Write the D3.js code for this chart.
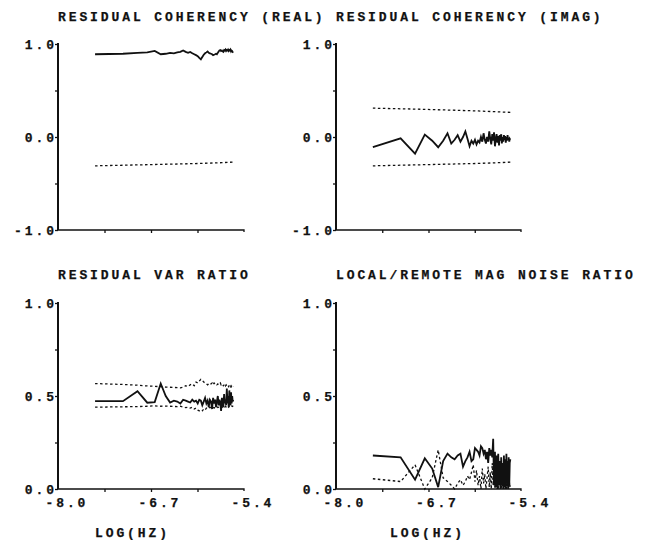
<!DOCTYPE html>
<html>
<head>
<meta charset="utf-8">
<script src="https://cdn.jsdelivr.net/npm/d3@7/dist/d3.min.js"></script>
<style>
  html, body { margin: 0; padding: 0; background: #fff; }
  svg text { font-family: "Liberation Mono", "DejaVu Sans Mono", monospace; font-weight: bold; fill: #111; stroke: #111; stroke-width: 0.25px; }
</style>
</head>
<body>
<svg id="chart" width="657" height="540"></svg>
<script>
// Frequency grid, log10(Hz)
const logFreq = [-7.482, -7.092, -6.889, -6.752, -6.648, -6.564, -6.494, -6.433, -6.380, -6.333,
  -6.290, -6.251, -6.215, -6.182, -6.152, -6.123, -6.096, -6.071, -6.047, -6.025,
  -6.003, -5.983, -5.963, -5.944, -5.926, -5.909, -5.893, -5.877, -5.861, -5.846,
  -5.832, -5.818, -5.804, -5.791, -5.779, -5.766, -5.754, -5.743, -5.731, -5.720,
  -5.709, -5.699, -5.689, -5.678, -5.669, -5.659, -5.650, -5.640, -5.631, -5.623,
  -5.614, -5.605, -5.597, -5.589, -5.581, -5.573, -5.565, -5.558, -5.550];

// Frequencies at which the coherency confidence limits are given
const bandFreq = [-7.482, -6.889, -6.433, -6.003, -5.709, -5.550];

const xTicks = [-8.0, -7.35, -6.7, -6.05, -5.4];
const xTickLabels = ["-8.0", "", "-6.7", "", "-5.4"];
const cohTicks = [-1.0, -0.5, 0.0, 0.5, 1.0];
const cohTickLabels = ["-1.0", "", "0.0", "", "1.0"];
const ratioTicks = [0.0, 0.25, 0.5, 0.75, 1.0];
const ratioTickLabels = ["0.0", "", "0.5", "", "1.0"];

const titles = ["RESIDUAL COHERENCY (REAL)", "RESIDUAL COHERENCY (IMAG)",
  "RESIDUAL VAR RATIO", "LOCAL/REMOTE MAG NOISE RATIO"];
const xAxisTitle = "LOG(HZ)";

// Residual coherency, real part
const cohReal = [0.89, 0.895, 0.905, 0.91, 0.925, 0.89, 0.895, 0.905, 0.90, 0.91,
  0.915, 0.93, 0.915, 0.905, 0.915, 0.90, 0.89, 0.88, 0.87, 0.85,
  0.835, 0.86, 0.885, 0.90, 0.91, 0.92, 0.905, 0.90, 0.895, 0.89,
  0.88, 0.885, 0.89, 0.895, 0.89, 0.905, 0.92, 0.93, 0.935, 0.925,
  0.93, 0.92, 0.915, 0.935, 0.93, 0.94, 0.925, 0.935, 0.93, 0.94,
  0.925, 0.935, 0.93, 0.94, 0.92, 0.93, 0.925, 0.915, 0.92];
const cohRealLower = [-0.31, -0.30, -0.292, -0.284, -0.276, -0.27];

// Residual coherency, imaginary part
const cohImag = [-0.11, -0.015, -0.18, 0.025, -0.04, -0.11, -0.04, 0.04, -0.07, -0.03,
  0.02, -0.05, 0.0, 0.06, -0.02, -0.10, -0.04, -0.07, -0.03, -0.08,
  -0.04, -0.06, 0.0, -0.05, 0.04, -0.03, -0.07, 0.0, -0.05, 0.06,
  -0.02, -0.08, 0.03, -0.04, 0.05, -0.10, -0.02, 0.03, -0.06, 0.01,
  -0.09, 0.02, -0.04, 0.03, -0.07, 0.0, -0.05, 0.02, -0.03, 0.01,
  -0.06, 0.0, -0.04, 0.02, -0.03, -0.01, -0.05, -0.02, -0.03];
const cohImagUpper = [0.31, 0.30, 0.29, 0.28, 0.27, 0.265];
const cohImagLower = [-0.31, -0.30, -0.292, -0.284, -0.276, -0.27];

// Residual variance ratio with its limits
const varRatio = [0.472, 0.472, 0.526, 0.464, 0.467, 0.567, 0.50, 0.465, 0.475, 0.47,
  0.46, 0.48, 0.475, 0.47, 0.465, 0.48, 0.47, 0.475, 0.46, 0.48,
  0.475, 0.45, 0.47, 0.49, 0.46, 0.475, 0.44, 0.48, 0.47, 0.43,
  0.49, 0.46, 0.48, 0.44, 0.47, 0.50, 0.45, 0.48, 0.46, 0.42,
  0.49, 0.47, 0.44, 0.51, 0.46, 0.48, 0.45, 0.54, 0.46, 0.50,
  0.44, 0.53, 0.47, 0.45, 0.52, 0.46, 0.50, 0.47, 0.48];
const varUpper = [0.567, 0.562, 0.558, 0.554, 0.552, 0.55, 0.548, 0.547, 0.546, 0.545,
  0.544, 0.548, 0.555, 0.55, 0.56, 0.565, 0.555, 0.575, 0.57, 0.58,
  0.59, 0.585, 0.575, 0.57, 0.565, 0.56, 0.565, 0.57, 0.565, 0.57,
  0.56, 0.57, 0.565, 0.567, 0.56, 0.565, 0.56, 0.565, 0.57, 0.56,
  0.565, 0.56, 0.555, 0.56, 0.565, 0.555, 0.56, 0.555, 0.56, 0.555,
  0.55, 0.56, 0.555, 0.55, 0.555, 0.55, 0.555, 0.55, 0.553];
const varLower = [0.44, 0.442, 0.443, 0.445, 0.447, 0.445, 0.446, 0.445, 0.444, 0.443,
  0.445, 0.44, 0.438, 0.44, 0.435, 0.44, 0.43, 0.435, 0.425, 0.42,
  0.415, 0.42, 0.43, 0.425, 0.435, 0.43, 0.435, 0.44, 0.435, 0.437,
  0.44, 0.435, 0.44, 0.437, 0.442, 0.438, 0.44, 0.443, 0.44, 0.445,
  0.442, 0.44, 0.445, 0.443, 0.44, 0.445, 0.442, 0.446, 0.443, 0.445,
  0.44, 0.446, 0.443, 0.445, 0.442, 0.446, 0.444, 0.445, 0.445];

// Local / remote magnetic noise ratio
const noiseLocal = [0.18, 0.17, 0.05, 0.165, 0.11, 0.01, 0.15, 0.19, 0.17, 0.16,
  0.18, 0.19, 0.12, 0.15, 0.17, 0.20, 0.15, 0.16, 0.22, 0.21,
  0.20, 0.18, 0.23, 0.22, 0.19, 0.21, 0.16, 0.20, 0.14, 0.22,
  0.18, 0.21, 0.17, 0.27, 0.02, 0.20, 0.01, 0.18, 0.0, 0.19,
  0.02, 0.15, 0.0, 0.17, 0.02, 0.14, 0.0, 0.18, 0.01, 0.16,
  0.0, 0.19, 0.03, 0.15, 0.0, 0.17, 0.02, 0.14, 0.16];
const noiseRemote = [0.055, 0.04, 0.13, 0.0, 0.06, 0.21, 0.06, 0.04, 0.02, 0.0,
  0.03, 0.05, 0.02, 0.04, 0.07, 0.05, 0.09, 0.13, 0.04, 0.10,
  0.02, 0.07, 0.0, 0.11, 0.03, 0.08, 0.0, 0.06, 0.12, 0.01,
  0.09, 0.0, 0.14, 0.02, 0.08, 0.0, 0.10, 0.01, 0.06, 0.0,
  0.09, 0.02, 0.05, 0.0, 0.07, 0.01, 0.04, 0.0, 0.06, 0.02,
  0.05, 0.0, 0.04, 0.01, 0.03, 0.0, 0.05, 0.01, 0.02];

const svg = d3.select("#chart");
const FS = 13;            // typewriter lettering size
const LS = 2.9;           // extra letter spacing

const panels = [
  { left: 58,  right: 244, top: 44,  bottom: 230, title: titles[0], titleY: 21,
    yDomain: [-1, 1], yTicks: cohTicks, yLabels: cohTickLabels, xLabels: false,
    solid: [{ x: logFreq, y: cohReal }],
    dotted: [{ x: bandFreq, y: cohRealLower }] },
  { left: 336, right: 521, top: 44,  bottom: 230, title: titles[1], titleY: 21,
    yDomain: [-1, 1], yTicks: cohTicks, yLabels: cohTickLabels, xLabels: false,
    solid: [{ x: logFreq, y: cohImag }],
    dotted: [{ x: bandFreq, y: cohImagUpper }, { x: bandFreq, y: cohImagLower }] },
  { left: 58,  right: 244, top: 303, bottom: 489, title: titles[2], titleY: 279,
    yDomain: [0, 1], yTicks: ratioTicks, yLabels: ratioTickLabels, xLabels: true, xTitleX: 131,
    solid: [{ x: logFreq, y: varRatio }],
    dotted: [{ x: logFreq, y: varUpper }, { x: logFreq, y: varLower }] },
  { left: 336, right: 521, top: 303, bottom: 489, title: titles[3], titleY: 279,
    yDomain: [0, 1], yTicks: ratioTicks, yLabels: ratioTickLabels, xLabels: true, xTitleX: 426,
    solid: [{ x: logFreq, y: noiseLocal }],
    dotted: [{ x: logFreq, y: noiseRemote }] }
];

function styleText(sel) {
  sel.attr("font-size", FS).attr("letter-spacing", LS)
    .style("font-family", "'Liberation Mono', monospace").style("font-weight", "bold")
    .attr("fill", "#111").attr("stroke", "#111").attr("stroke-width", 0.25);
}

panels.forEach(p => {
  const x = d3.scaleLinear().domain([-8.0, -5.4]).range([p.left, p.right]);
  const y = d3.scaleLinear().domain(p.yDomain).range([p.bottom, p.top]);
  const g = svg.append("g");

  // title
  g.append("text")
    .attr("x", p.left).attr("y", p.titleY)
    .call(styleText)
    .text(p.title);

  // y axis
  const yAxis = d3.axisLeft(y).tickValues(p.yTicks).tickSize(3)
    .tickFormat((d, i) => p.yLabels[i]);
  const ya = g.append("g").attr("transform", `translate(${p.left},0)`).call(yAxis);
  ya.select(".domain").attr("stroke", "#111").attr("stroke-width", 2).attr("d", `M0,${p.top - 1}V${p.bottom}`);
  ya.selectAll(".tick line").attr("stroke", "#111").attr("stroke-width", 1.3);
  ya.selectAll(".tick text")
    .call(styleText)
    .attr("x", -4 + LS).attr("dy", "0.36em");

  // x axis
  const xAxis = d3.axisBottom(x).tickValues(xTicks).tickSize(3)
    .tickFormat((d, i) => p.xLabels ? xTickLabels[i] : "");
  const xa = g.append("g").attr("transform", `translate(0,${p.bottom})`).call(xAxis);
  xa.select(".domain").attr("stroke", "#111").attr("stroke-width", 1.3).attr("d", `M${p.left},0H${p.right}V2`);
  xa.selectAll(".tick line").attr("stroke", "#111").attr("stroke-width", 1.3);
  xa.selectAll(".tick text")
    .call(styleText)
    .attr("text-anchor", "start").attr("x", -13).attr("y", 18).attr("dy", 0);
  g.selectAll(".tick").filter(d => d === -8.0 || d === -5.4).select("line").remove();

  if (p.xLabels) {
    g.append("text")
      .attr("x", p.xTitleX + LS / 2).attr("y", 537)
      .attr("text-anchor", "middle")
      .call(styleText)
      .text(xAxisTitle);
  }

  const line = d3.line().x(d => x(d[0])).y(d => y(d[1]));

  p.dotted.forEach(s => {
    g.append("path")
      .datum(s.x.map((v, i) => [v, s.y[i]]))
      .attr("d", line)
      .attr("fill", "none").attr("stroke", "#111")
      .attr("stroke-width", 1.3).attr("stroke-dasharray", "2.5,2.5");
  });
  p.solid.forEach(s => {
    g.append("path")
      .datum(s.x.map((v, i) => [v, s.y[i]]))
      .attr("d", line)
      .attr("fill", "none").attr("stroke", "#111")
      .attr("stroke-width", 1.8).attr("stroke-linejoin", "miter");
  });
});
</script>
</body>
</html>
